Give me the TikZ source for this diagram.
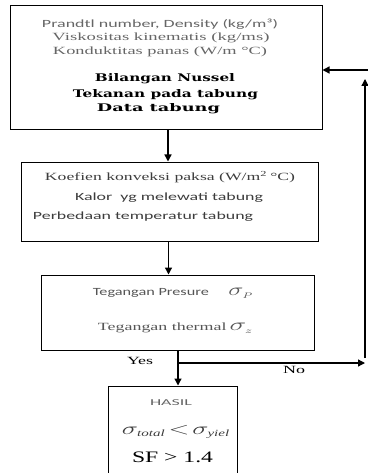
\documentclass[tikz,border=0pt]{standalone}
\usepackage{fontspec}
\usepackage{graphicx}
\setmainfont{Liberation Serif}
\newfontfamily\calib{Carlito}
\newfontfamily\slab{DejaVu Serif}
\usetikzlibrary{arrows.meta}
\newcommand{\fw}[2]{\resizebox{#1}{\height}{#2}}
\definecolor{ga}{HTML}{666666}
\definecolor{gb}{HTML}{3C3C3C}
\definecolor{gc}{HTML}{555555}
\begin{document}
\begin{tikzpicture}[x=1pt,y=-1pt,
  box/.style={draw, line width=1pt, inner sep=0pt},
  arr/.style={line width=1.3pt,-{Triangle[length=7pt,width=7pt]}},
  txt/.style={inner sep=0pt, anchor=center}]
\useasboundingbox (0,0) rectangle (367,473);
% boxes
\node[box, minimum width=312pt, minimum height=124pt] (b1) at (166,68) {};
\node[box, minimum width=297pt, minimum height=79pt] (b2) at (169.5,201.5) {};
\node[box, minimum width=273pt, minimum height=75pt] (b3) at (177.5,312.5) {};
\node[box, minimum width=129pt, minimum height=110pt] (b4) at (172.5,441) {};
% box 1 text
\node[txt, text=ga] (t1) at (160,24) {\calib\fontsize{11}{13}\selectfont\fw{236pt}{Prandtl number, Density (kg/m³)}};
\node[txt, text=ga] (t2) at (161,38) {\fontsize{11}{13}\selectfont\fw{217pt}{Viskositas kinematis (kg/ms)}};
\node[txt, text=ga] (t3) at (160,52) {\fontsize{11}{13}\selectfont\fw{214pt}{Konduktitas panas (W/m °C)}};
\node[txt] (t4) at (165,79) {\slab\bfseries\fontsize{10.5}{12}\selectfont\fw{140pt}{Bilangan Nussel}};
\node[txt] (t5) at (165.5,95) {\slab\bfseries\fontsize{10.5}{12}\selectfont\fw{185pt}{Tekanan pada tabung}};
\node[txt] (t6) at (158.5,109) {\slab\bfseries\fontsize{10.5}{12}\selectfont\fw{123pt}{Data tabung}};
% box 2 text
\node[txt, text=gb] (t7) at (170,177) {\fontsize{11}{13}\selectfont\fw{250pt}{Koefien konveksi paksa (W/m\textsuperscript{2}\,°C)}};
\node[txt, text=gb] (t8) at (169,198) {\calib\fontsize{11}{13}\selectfont\fw{188pt}{Kalor\ \ yg melewati tabung}};
\node[txt, text=gb] (t9) at (143,217) {\calib\fontsize{11}{13}\selectfont\fw{220pt}{Perbedaan temperatur tabung}};
% box 3 text
\node[txt, text=gc] (t10) at (173,293) {\calib\fontsize{11}{13}\selectfont\fw{160pt}{Tegangan Presure\hspace{1.2em}{\fontsize{16}{18}\selectfont$\sigma_{\scriptscriptstyle P}$}}};
\node[txt, text=gc] (t11) at (175.5,328) {\fontsize{11}{13}\selectfont\fw{155pt}{Tegangan thermal\,{\fontsize{16}{18}\selectfont$\sigma_{\scriptscriptstyle z}$}}};
% box 4 text
\node[txt, text=ga] (t12) at (171,403) {\calib\fontsize{9}{10}\selectfont\fw{42pt}{HASIL}};
\node[txt, text=gb] (t13) at (176,432) {\fontsize{19}{21}\selectfont\fw{108pt}{$\sigma_{\scriptscriptstyle\mathit{total}}\!<\!\sigma_{\scriptscriptstyle\mathit{yiel}}$}};
\node[txt] (t14) at (172.5,457) {\fontsize{16}{18}\selectfont\fw{81pt}{SF > 1.4}};
% labels
\node[txt] (yes) at (140,361) {\fontsize{11}{13}\selectfont\fw{26pt}{Yes}};
\node[txt] (no) at (294,370) {\fontsize{11}{13}\selectfont\fw{22pt}{No}};
% connectors
\coordinate (xa) at (168,0);
\draw[arr] (xa |- b1.south) -- (xa |- b2.north);
\coordinate (xb) at (168.5,0);
\draw[arr] (xb |- b2.south) -- (xb |- b3.north);
\coordinate (xc) at (178,0);
\draw[arr] (xc |- b3.south) -- (xc |- b4.north);
\coordinate (j) at (178,363);
\coordinate (r) at (365,363);
\draw[arr] (j) -- (r);
\coordinate (v1) at (365,358);
\coordinate (v2) at (365,79);
\draw[arr] (v1) -- (v2);
\coordinate (e) at (368,70);
\draw[arr] (e) -- (e -| b1.east);
\end{tikzpicture}
\end{document}
